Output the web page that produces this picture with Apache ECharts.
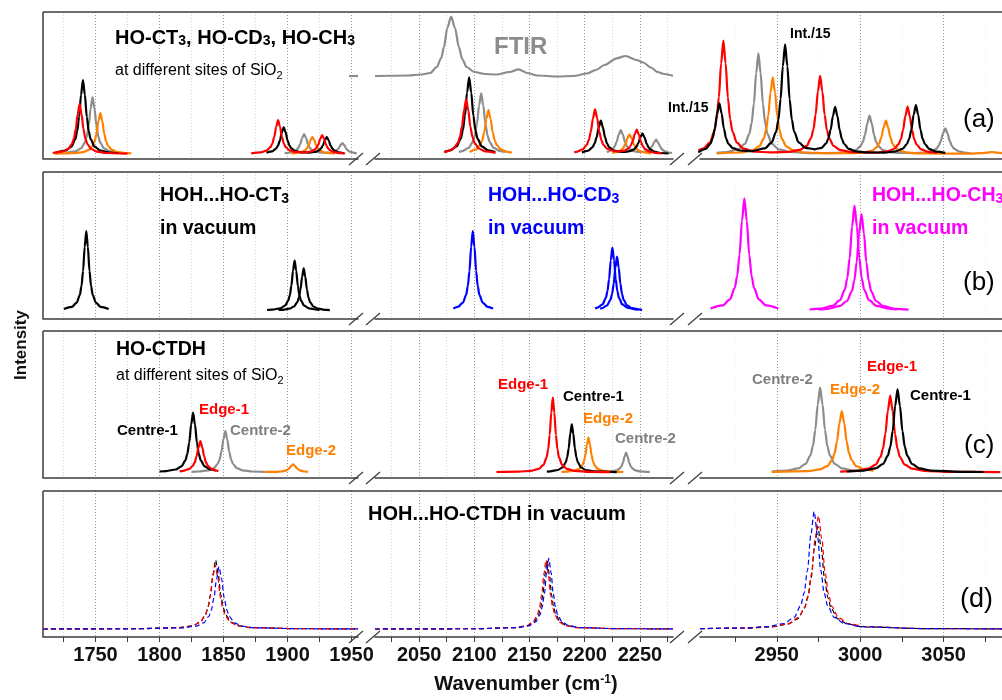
<!DOCTYPE html>
<html><head><meta charset="utf-8">
<script src="https://cdn.jsdelivr.net/npm/echarts@6/dist/echarts.min.js"></script>
<style>html,body{margin:0;padding:0;background:#fff}#c{width:1002px;height:700px}</style>
</head><body><div id="c"></div><script>
// ---------- tick values of the three broken-axis segments ----------
const seg1Ticks = [1725,1750,1775,1800,1825,1850,1875,1900,1925,1950];
const seg1Labels = [1750,1800,1850,1900,1950];
const seg2Ticks = [2025,2050,2075,2100,2125,2150,2175,2200,2225,2250,2275];
const seg2Labels = [2050,2100,2150,2200,2250];
const seg3Ticks = [2925,2950,2975,3000,3025,3050,3075];
const seg3Labels = [2950,3000,3050];

// ---------- panel (a): HO-CT3 / HO-CD3 / HO-CH3 on SiO2 ----------
const a1Red = [[1716.6,1.0],[1724.1,2.4],[1728.6,5],[1731.6,10],[1733.1,15.4],[1734.6,25],[1736.1,40],[1737.6,50],[1739.1,40],[1740.6,25],[1742.1,15.4],[1743.6,10],[1746.6,5],[1751.1,2.4],[1758.6,1.0],[1775,0.3],null,
 [1871.6,0.7],[1879.1,1.6],[1883.6,3.4],[1886.6,6.8],[1888.1,10.5],[1889.6,17],[1891.1,27.2],[1892.6,34],[1894.1,27.2],[1895.6,17],[1897.1,10.5],[1898.6,6.8],[1901.6,3.7],[1906.1,2.0],[1913.5,1.6],[1918,2.4],[1921,4.1],[1922.5,6.1],[1924,9.5],[1925.5,15.2],[1927,19],[1928.5,15.2],[1930,9.5],[1931.5,5.8],[1933,3.8],[1936,1.9],[1940.5,0.9],[1945,0.5]];
const a1Black = [[1719.2,1.5],[1726.7,3.5],[1731.2,7.4],[1734.2,14.8],[1735.7,22.8],[1737.2,37],[1738.7,59.2],[1740.2,74],[1741.7,59.2],[1743.2,37],[1744.7,22.8],[1746.2,14.8],[1749.2,7.4],[1753.7,3.5],[1761.2,1.5],[1768,0.8],null,
 [1883.5,1.3],[1888,2.7],[1891,5.4],[1892.5,8.3],[1894,13.5],[1895.5,21.6],[1897,27],[1898.5,21.6],[1900,13.5],[1901.5,8.3],[1903,5.4],[1906,3.0],[1910.5,1.7],[1917.1,1.4],[1921.6,2.1],[1924.6,3.7],[1926.1,5.5],[1927.6,8.5],[1929.1,13.6],[1930.6,17],[1932.1,13.6],[1933.6,8.5],[1935.1,5.2],[1936.6,3.4],[1939.6,1.7],[1944.1,0.8]];
const a1Gray = [[1726.7,1.1],[1734.2,2.7],[1738.7,5.7],[1741.7,11.4],[1743.2,17.5],[1744.7,28.5],[1746.2,45.6],[1747.7,57],[1749.2,45.6],[1750.7,28.5],[1752.2,17.5],[1753.7,11.4],[1756.7,5.7],[1761.2,2.7],[1768.7,1.1],[1772,0.8],null,
 [1897.7,0.75],[1899.4,0.9],[1903.9,2],[1906.9,4],[1908.4,6.2],[1909.9,10],[1911.4,16],[1912.9,20],[1914.4,16],[1915.9,10],[1917.4,6.2],[1918.9,4],[1921.9,2.2],[1926.4,1.3],[1929.3,1.2],[1933.8,1.5],[1936.8,2.5],[1938.3,3.6],[1939.8,5.5],[1941.3,8.8],[1942.8,11],[1944.3,8.8],[1945.8,5.5],[1947.3,3.4],[1948.8,2.2],[1951.8,1.1],[1954,0.7]];
const a1Orange = [[1718,0.3],[1732.8,0.8],[1740.3,1.9],[1744.8,4.1],[1747.8,8.2],[1749.3,12.6],[1750.8,20.5],[1752.3,32.8],[1753.8,41],[1755.3,32.8],[1756.8,20.5],[1758.3,12.6],[1759.8,8.2],[1762.8,4.1],[1767.3,1.9],[1774.8,0.8],[1778,0.6],null,
 [1903,0.55],[1905.9,0.8],[1910.4,1.7],[1913.4,3.4],[1914.9,5.2],[1916.4,8.5],[1917.9,13.6],[1919.4,17],[1920.9,13.6],[1922.4,8.5],[1923.9,5.2],[1925.4,3.4],[1928.4,1.7],[1932.9,0.8],[1937,0.5]];
const a1Ftir = [[1948,78],[1955,78]];

const a2Red = [[2072.6,1.9],[2075.5,2.6],[2081.2,5.5],[2085,10.9],[2086.9,16.8],[2088.8,27.4],[2090.7,43.8],[2092.6,54.7],[2094.5,43.8],[2096.4,27.4],[2098.3,16.8],[2100.2,10.9],[2104,5.5],[2109.7,2.6],[2119.2,1.1],null,
 [2190.4,1.7],[2192.3,2.1],[2198,4.5],[2201.8,8.9],[2203.7,13.8],[2205.6,22.4],[2207.5,35.8],[2209.4,44.7],[2211.3,35.8],[2213.2,22.4],[2215.1,13.8],[2217,8.9],[2220.8,5.0],[2226.5,2.9],[2230.1,2.6],[2235.8,3.3],[2239.6,5.5],[2241.5,8.0],[2243.4,12.5],[2245.3,19.6],[2247.2,24.4],[2249.1,19.2],[2251,12],[2252.9,7.4],[2254.8,4.8],[2258.6,2.4],[2264.3,1.1],[2270,0.6]];
const a2Black = [[2073,2.1],[2078.2,3.6],[2083.9,7.7],[2087.7,15.3],[2089.6,23.6],[2091.5,38.4],[2093.4,61.4],[2095.3,76.7],[2097.2,61.4],[2099.1,38.4],[2101,23.6],[2102.9,15.3],[2106.7,7.7],[2112.4,3.6],[2119,2.0],null,
 [2197.5,1.6],[2203.2,3.3],[2207,6.7],[2208.9,10.2],[2210.8,16.7],[2212.7,26.6],[2214.6,33.3],[2216.5,26.6],[2218.4,16.7],[2220.3,10.2],[2222.2,6.7],[2226,3.7],[2231.7,2.3],[2235.2,2.1],[2240.9,2.8],[2244.7,4.6],[2246.6,6.8],[2248.5,10.7],[2250.4,16.6],[2252.3,20.7],[2254.2,16.6],[2256.1,10.4],[2258,6.4],[2259.9,4.1],[2263.7,2.1],[2269.4,1.0],[2276,0.5]];
const a2Gray = [[2086,2.1],[2089.1,2.9],[2094.8,6.1],[2098.6,12.1],[2100.5,18.7],[2102.4,30.4],[2104.3,48.6],[2106.2,60.7],[2108.1,48.6],[2110,30.4],[2111.9,18.7],[2113.8,12.1],[2117.6,6.1],[2123.3,2.9],[2128,2.0],null,
 [2220,2.0],[2221.3,2.4],[2225.1,4.8],[2227,7.4],[2228.9,12],[2230.8,19.2],[2232.7,24],[2234.6,19.2],[2236.5,12],[2238.4,7.4],[2240.3,5.1],[2244.1,2.9],[2247.6,2.2],[2253.3,2.2],[2257.1,3.4],[2259,4.8],[2260.9,7.4],[2262.8,11.5],[2264.7,14.3],[2266.6,11.2],[2268.5,7],[2270.4,4.3],[2272.3,2.8],[2276.1,1.4],[2279,1.0]];
const a2Orange = [[2095.7,2.1],[2101.4,4.4],[2105.2,8.8],[2107.1,13.5],[2109,22],[2110.9,35.2],[2112.8,44],[2114.7,35.2],[2116.6,22],[2118.5,13.5],[2120.4,8.8],[2124.2,4.4],[2129.9,2.1],[2134,1.4],null,
 [2225,1.1],[2229.2,2.0],[2233,3.9],[2234.9,6.1],[2236.8,9.9],[2238.7,15.8],[2240.6,19.7],[2242.5,15.8],[2244.4,9.9],[2246.3,6.1],[2248.2,3.9],[2252,2.0],[2257.7,0.9],[2260,0.7]];
const a2Ftir = [[2010,78],[2040,78.5],[2052,79.5],[2060,81],[2066,87],[2070,96],[2072.5,107],[2075.5,126],[2079,137.3],[2082.5,126],[2086,107],[2089,95],[2093,87],[2100,82],[2110,80],[2120,79.5],[2132,82],[2140,84.7],[2148,81],[2157,78.5],[2175,77.5],[2190,78],[2202,80.5],[2210,84],[2218,89],[2229,95.7],[2237,98],[2247,94],[2253,91.5],[2260,86.5],[2266,82],[2272,80],[2280,78.2]];

const a3Black = [[2903,1.6],[2907.5,5.1],[2910.2,10.1],[2911.55,15.6],[2912.9,25.4],[2914.25,40.6],[2915.6,50.7],[2916.95,40.6],[2918.3,25.4],[2919.65,15.6],[2921,10.1],[2923.7,5.9],[2927.75,3.5],[2935,2.9],[2942.85,5.7],[2946.9,11.4],[2949.6,22.2],[2950.95,33.8],[2952.3,54.9],[2953.65,87.8],[2955,109.7],[2956.35,87.8],[2957.7,54.9],[2959.05,34.3],[2960.4,22.5],[2963.1,11.7],[2967.15,6.2],[2972.85,4.7],[2976.9,6.2],[2979.6,10.6],[2980.95,15.4],[2982.3,24.3],[2983.65,38],[2985,47.2],[2986.35,37.9],[2987.7,24],[2989.05,14.9],[2990.4,10],[2993.1,5.2],[2997.15,2.7],[3003.9,1.6],[3014.5,1.4],[3021.25,2.6],[3025.3,5.1],[3028,9.8],[3029.35,15.1],[3030.7,24.5],[3032.05,39.2],[3033.4,49],[3034.75,39.2],[3036.1,24.5],[3037.45,15.1],[3038.8,9.8],[3041.5,4.9],[3045.55,2.3],[3051,1.1]];
const a3Red = [[2903,3.6],[2905.85,5.3],[2909.9,11.3],[2912.6,22.7],[2913.95,34.9],[2915.3,56.7],[2916.65,90.6],[2918,113.3],[2919.35,90.6],[2920.7,56.7],[2922.05,34.9],[2923.4,22.7],[2926.1,11.3],[2930.15,5.3],[2936.9,2.3],[2946,1.7],[2957.1,2.1],[2963.85,4.1],[2967.9,8.1],[2970.6,15.9],[2971.95,24.3],[2973.3,39.3],[2974.65,62.6],[2976,78.2],[2977.35,62.4],[2978.7,39],[2980.05,24],[2981.4,15.6],[2984.1,8.0],[2988.15,3.9],[2994.9,1.9],[3009.5,1.4],[3016.25,2.6],[3020.3,5.0],[3023,9.8],[3024.35,14.6],[3025.7,23.7],[3027.05,37.8],[3028.4,47.3],[3029.75,37.8],[3031.1,23.7],[3032.45,14.6],[3033.8,9.5],[3036.5,4.7],[3040.55,2.2],[3046,1.1]];
const a3Gray = [[2914,1.2],[2920.1,2.0],[2926.85,4.7],[2930.9,10.1],[2933.6,20.1],[2934.95,31],[2936.3,50.4],[2937.65,80.6],[2939,100.7],[2940.35,80.6],[2941.7,50.4],[2943.05,31],[2944.4,20.1],[2947.1,10.1],[2951.15,4.7],[2957.9,2.0],[2972,0.9],[2986.7,1.1],[2993.45,2.1],[2997.5,4.0],[3000.2,7.9],[3001.55,11.8],[3002.9,19.2],[3004.25,30.6],[3005.6,38.3],[3006.95,30.6],[3008.3,19.2],[3009.65,11.8],[3011,7.7],[3013.7,3.8],[3017.75,1.8],[3024.5,1.1],[3032.1,0.9],[3038.85,1.5],[3042.9,2.8],[3045.6,5.1],[3046.95,7.9],[3048.3,12.9],[3049.65,20.6],[3051,25.7],[3052.35,20.6],[3053.7,12.9],[3055.05,7.9],[3056.4,5.1],[3059.1,2.6],[3063.15,1.2],[3066,0.8]];
const a3Orange = [[2914,0.5],[2928.7,1.5],[2935.45,3.6],[2939.5,7.7],[2942.2,15.3],[2943.55,23.6],[2944.9,38.4],[2946.25,61.4],[2947.6,76.7],[2948.95,61.4],[2950.3,38.4],[2951.65,23.6],[2953,15.3],[2955.7,7.7],[2959.75,3.6],[2966.5,1.5],[2982,0.7],[2996.5,0.9],[3003.25,1.8],[3007.3,3.5],[3010,6.8],[3011.35,10.3],[3012.7,16.7],[3014.05,26.6],[3015.4,33.3],[3016.75,26.6],[3018.1,16.7],[3019.45,10.2],[3020.8,6.7],[3023.5,3.3],[3027.55,1.6],[3034.3,0.7],[3050,0.3],[3065,0.4],[3073,0.9],[3076,1.4],[3079,2.0],[3082,1.4],[3085,0.9]];

// ---------- panel (b): HOH...HO-CX3 in vacuum ----------
const b1Black = [[1725.3,1.6],[1731.55,3.8],[1735.3,8],[1737.8,15.9],[1739.05,24.5],[1740.3,39.9],[1741.55,63.8],[1742.8,79.7],[1744.05,63.8],[1745.3,39.9],[1746.55,24.5],[1747.8,15.9],[1750.3,8],[1754.05,3.8],[1760.3,1.6],null,
 [1884,0.7],[1888,1.0],[1894.25,2.4],[1898,5],[1900.5,10],[1901.75,15.4],[1903,25],[1904.25,40],[1905.5,50],[1906.75,40],[1908,25],[1909.25,15.4],[1910.5,10],[1913,5],[1916.75,2.4],[1923,1.0],[1925,0.8]];
const b1Black2 = [[1893,0.7],[1895.1,0.8],[1901.35,2.0],[1905.1,4.2],[1907.6,8.5],[1908.85,13],[1910.1,21.2],[1911.35,33.8],[1912.6,42.3],[1913.85,33.8],[1915.1,21.2],[1916.35,13],[1917.6,8.5],[1920.1,4.2],[1923.85,2.0],[1930.1,0.8],[1933,0.6]];
const b2Blue = [[2081,2.2],[2085.1,3.8],[2089.6,8],[2092.6,15.9],[2094.1,24.5],[2095.6,39.9],[2097.1,63.8],[2098.6,79.7],[2100.1,63.8],[2101.6,39.9],[2103.1,24.5],[2104.6,15.9],[2107.6,8],[2112.1,3.8],[2117,2.1],null,
 [2209.4,2.2],[2211.6,3.0],[2216.1,6.3],[2219.1,12.6],[2220.6,19.4],[2222.1,31.5],[2223.6,50.4],[2225.1,63],[2226.6,50.4],[2228.1,31.5],[2229.6,19.4],[2231.1,12.6],[2234.1,6.3],[2238.6,3.0],[2246.1,1.3],[2248,1.1]];
const b2Blue2 = [[2214,2.0],[2215.8,2.5],[2220.3,5.4],[2223.3,10.8],[2224.8,16.6],[2226.3,27],[2227.8,43.2],[2229.3,54],[2230.8,43.2],[2232.3,27],[2233.8,16.6],[2235.3,10.8],[2238.3,5.4],[2242.8,2.5],[2250.3,1.1],[2252,0.9]];
const b3Magenta = [[2910.3,2.2],[2917.55,5.3],[2921.9,11.2],[2924.8,22.5],[2926.25,34.6],[2927.7,56.2],[2929.15,89.9],[2930.6,112.4],[2932.05,89.9],[2933.5,56.2],[2934.95,34.6],[2936.4,22.5],[2939.3,11.2],[2943.65,5.3],[2950.9,2.2],null,
 [2969.6,1.2],[2976.3,2.1],[2983.55,4.9],[2987.9,10.5],[2990.8,21],[2992.25,32.3],[2993.7,52.5],[2995.15,84],[2996.6,105],[2998.05,84],[2999.5,52.5],[3000.95,32.3],[3002.4,21],[3005.3,10.5],[3009.65,4.9],[3016.9,2.1],[3022,1.3]];
const b3Magenta2 = [[2975,1.2],[2980.5,1.9],[2987.75,4.6],[2992.1,9.7],[2995,19.3],[2996.45,29.8],[2997.9,48.4],[2999.35,77.4],[3000.8,96.7],[3002.25,77.4],[3003.7,48.4],[3005.15,29.8],[3006.6,19.3],[3009.5,9.7],[3013.85,4.6],[3021.1,1.9],[3029,1.1]];

// ---------- panel (c): HO-CTDH on SiO2 ----------
const c1Black = [[1800,0.8],[1805.2,1.2],[1812.7,2.8],[1817.2,6],[1820.2,11.9],[1821.7,18.3],[1823.2,29.8],[1824.7,47.7],[1826.2,59.6],[1827.7,47.7],[1829.2,29.8],[1830.7,18.3],[1832.2,11.9],[1835.2,6],[1839.7,2.8],[1844,1.7]];
const c1Red = [[1815.7,1.0],[1818.4,1.5],[1822.9,3.1],[1825.9,6.3],[1827.4,9.6],[1828.9,15.7],[1830.4,25],[1831.9,31.3],[1833.4,25],[1834.9,15.7],[1836.4,9.6],[1837.9,6.3],[1840.9,3.1],[1845.4,1.5],[1846,1.4]];
const c1Gray = [[1825,0.5],[1830.4,0.8],[1837.9,1.9],[1842.4,4.1],[1845.4,8.3],[1846.9,12.7],[1848.4,20.7],[1849.9,33],[1851.4,41.3],[1852.9,33],[1854.4,20.7],[1855.9,12.7],[1857.4,8.3],[1860.4,4.1],[1864.9,1.9],[1872.4,0.8],[1882,0.4]];
const c1Orange = [[1882,0.4],[1890.8,0.4],[1895.3,0.8],[1898.3,1.6],[1899.8,2.5],[1901.3,4],[1902.8,6.4],[1904.3,8],[1905.8,6.4],[1907.3,4],[1908.8,2.5],[1910.3,1.6],[1913.3,0.8],[1916,0.5]];
const c2Red = [[2120,0.3],[2140,0.6],[2151.5,1.5],[2158.5,3.5],[2162.7,7.5],[2165.5,14.9],[2166.9,23],[2168.3,37.3],[2169.7,59.7],[2171.1,74.6],[2172.5,59.7],[2173.9,37.3],[2175.3,23],[2176.7,14.9],[2179.5,7.5],[2183.7,3.5],[2190.7,1.5],[2205,0.5],[2223,0.2]];
const c2Black = [[2165.7,0.7],[2168.7,1.0],[2175.7,2.3],[2179.9,4.8],[2182.7,9.6],[2184.1,14.8],[2185.5,24],[2186.9,38.4],[2188.3,48],[2189.7,38.4],[2191.1,24],[2192.5,14.8],[2193.9,9.6],[2196.7,4.8],[2200.9,2.3],[2207.9,1.0],[2229,0.2]];
const c2Orange = [[2179,0.5],[2183.8,0.7],[2190.8,1.6],[2195,3.5],[2197.8,6.9],[2199.2,10.6],[2200.6,17.3],[2202,27.7],[2203.4,34.6],[2204.8,27.7],[2206.2,17.3],[2207.6,10.6],[2209,6.9],[2211.8,3.5],[2216,1.6],[2223,0.7],[2235,0.3]];
const c2Gray = [[2223,0.7],[2224.9,0.9],[2229.1,2],[2231.9,3.9],[2233.3,6],[2234.7,9.8],[2236.1,15.7],[2237.5,19.6],[2238.9,15.7],[2240.3,9.8],[2241.7,6],[2243.1,3.9],[2245.9,2],[2250.1,0.9],[2257.1,0.4],[2259,0.35]];
const c3Gray = [[2947,0.8],[2955.7,1.7],[2962.95,4.0],[2967.3,8.5],[2970.2,16.9],[2971.65,26],[2973.1,42.3],[2974.55,67.7],[2976,84.6],[2977.45,67.7],[2978.9,42.3],[2980.35,26],[2981.8,16.9],[2984.7,8.5],[2989.05,4.0],[2996.3,1.7],[2999,1.4]];
const c3Orange = [[2947,0.3],[2968.7,1.2],[2975.95,2.9],[2980.3,6.1],[2983.2,12.3],[2984.65,18.9],[2986.1,30.7],[2987.55,49],[2989,61.3],[2990.45,49],[2991.9,30.7],[2993.35,18.9],[2994.8,12.3],[2997.7,6.1],[3002.05,2.9],[3008,1.5]];
const c3Red = [[2988,0.7],[2997.7,1.5],[3004.95,3.6],[3009.3,7.7],[3012.2,15.3],[3013.65,23.6],[3015.1,38.3],[3016.55,61.3],[3018,76.6],[3019.45,61.3],[3020.9,38.3],[3022.35,23.6],[3023.8,15.3],[3026.7,7.7],[3031.05,3.6],[3038.3,1.5],[3055,0.5],[3084,0.1]];
const c3Black = [[2992,0.8],[3002.1,1.7],[3009.35,3.9],[3013.7,8.3],[3016.6,16.6],[3018.05,25.5],[3019.5,41.5],[3020.95,66.4],[3022.4,83],[3023.85,66.4],[3025.3,41.5],[3026.75,25.5],[3028.2,16.6],[3031.1,8.3],[3035.45,3.9],[3042.7,1.7],[3060,0.5],[3074,0.3]];

// ---------- panel (d): HOH...HO-CTDH in vacuum ----------
const d1Black = [[1709,0],[1780,0.3],[1815.8,1.4],[1825.8,3.2],[1831.8,6.9],[1835.8,13.8],[1837.8,21.2],[1839.8,34.5],[1841.8,55.2],[1843.8,69],[1845.8,55.2],[1847.8,34.5],[1849.8,21.2],[1851.8,13.8],[1855.8,6.9],[1861.8,3.2],[1871.8,1.4],[1910,0.3],[1955,0.1]];
const d1Red = [[1709,0],[1780,0.25],[1815.5,1.3],[1825.5,3.0],[1831.5,6.4],[1835.5,12.8],[1837.5,19.7],[1839.5,32],[1841.5,51.2],[1843.5,64],[1845.5,51.2],[1847.5,32],[1849.5,19.7],[1851.5,12.8],[1855.5,6.4],[1861.5,3.0],[1871.5,1.3],[1910,0.25],[1955,0.1]];
const d1Blue = [[1709,0],[1780,0.22],[1818.5,1.2],[1828.5,2.9],[1834.5,6.2],[1838.5,12.5],[1840.5,19.2],[1842.5,31.2],[1844.5,49.8],[1846.5,62.3],[1848.5,49.8],[1850.5,31.2],[1852.5,19.2],[1854.5,12.5],[1858.5,6.2],[1864.5,2.9],[1874.5,1.2],[1910,0.25],[1955,0.1]];
const d2Black = [[2010,0],[2100,0.25],[2138,1.4],[2148,3.2],[2154,6.8],[2158,13.6],[2160,20.9],[2162,34],[2164,54.4],[2166,68],[2168,54.4],[2170,34],[2172,20.9],[2174,13.6],[2178,6.8],[2184,3.2],[2194,1.4],[2230,0.3],[2280,0.1]];
const d2Red = [[2010,0],[2100,0.26],[2137,1.4],[2147,3.2],[2153,6.9],[2157,13.8],[2159,21.2],[2161,34.5],[2163,55.2],[2165,69],[2167,55.2],[2169,34.5],[2171,21.2],[2173,13.8],[2177,6.9],[2183,3.2],[2193,1.4],[2230,0.3],[2280,0.1]];
const d2Blue = [[2010,0],[2100,0.25],[2139.5,1.4],[2149.5,3.3],[2155.5,7.1],[2159.5,14.1],[2161.5,21.8],[2163.5,35.4],[2165.5,56.6],[2167.5,70.7],[2169.5,56.6],[2171.5,35.4],[2173.5,21.8],[2175.5,14.1],[2179.5,7.1],[2185.5,3.3],[2195.5,1.4],[2230,0.3],[2280,0.1]];
const d3Black = [[2904,0.3],[2930,0.8],[2946.6,2.0],[2956.6,4.8],[2962.6,10.2],[2966.6,20.5],[2968.6,31.5],[2970.6,51.2],[2972.6,81.8],[2974.6,102.3],[2976.6,81.8],[2978.6,51.2],[2980.6,31.5],[2982.6,20.5],[2986.6,10.2],[2992.6,4.8],[3002.6,2.0],[3040,0.4],[3085,0.1]];
const d3Red = [[2904,0.35],[2930,0.9],[2947,2.3],[2957,5.3],[2963,11.3],[2967,22.6],[2969,34.8],[2971,56.5],[2973,90.4],[2975,113],[2977,90.4],[2979,56.5],[2981,34.8],[2983,22.6],[2987,11.3],[2993,5.3],[3003,2.3],[3040,0.4],[3085,0.1]];
const d3Blue = [[2904,0.4],[2930,1.0],[2944.4,2.3],[2954.4,5.5],[2960.4,11.7],[2964.4,23.5],[2966.4,36.1],[2968.4,58.7],[2970.4,93.8],[2972.4,117.3],[2974.4,93.8],[2976.4,58.7],[2978.4,36.1],[2980.4,23.5],[2984.4,11.7],[2990.4,5.5],[3000.4,2.3],[3040,0.3],[3085,0.1]];

// ---------- layout ----------
const FONT = 'Arial, "Liberation Sans", Helvetica, sans-serif';
const RED = '#ff0000', BLACK = '#000000', GRAY = '#8c8c8c', ORANGE = '#ff8000', BLUE = '#0000ff', MAGENTA = '#ff00ff';
const segments = [
  {min:1709, max:1955, left:43, width:315, ticks:seg1Ticks, labels:seg1Labels, grid:['#d4d4d4','#9a9a9a']},
  {min:2010, max:2280, left:375, width:298, ticks:seg2Ticks, labels:seg2Labels, grid:['#d4d4d4','#9a9a9a']},
  {min:2904, max:3085, left:700, width:302, ticks:seg3Ticks, labels:seg3Labels, grid:['#f2f2f2','#9a9a9a']}
];
const panels = [
  {top:12, height:147, ymin:-5, ymax:142},
  {top:172, height:147, ymin:-8.3, ymax:138.7},
  {top:331, height:147, ymin:-5.7, ymax:141.3},
  {top:491, height:146, ymin:-8, ymax:138}
];

const option = {animation:false, grid:[], xAxis:[], yAxis:[], series:[], graphic:[]};
panels.forEach((p, pi) => segments.forEach((s, si) => {
  const last = pi === 3;
  option.grid.push({left:s.left, width:s.width, top:p.top, height:p.height});
  option.xAxis.push({
    gridIndex: pi*3+si, type:'value', min:s.min, max:s.max,
    axisLine:{show:true, onZero:false, lineStyle:{color:'#3c3c3c', width:1.5}},
    axisTick:{show:last, customValues:s.ticks, length:5, lineStyle:{color:'#3c3c3c', width:1}},
    axisLabel:{show:last, customValues:s.labels, fontSize:20, fontWeight:'bold', color:'#111', fontFamily:FONT, margin:8, formatter:v => String(v)},
    splitLine:{show:true, lineStyle:{type:[1,2], width:1, color:s.grid}}
  });
  option.yAxis.push({gridIndex: pi*3+si, type:'value', min:p.ymin, max:p.ymax, show:false});
}));

function splitNull(arr) {
  const out = []; let cur = [];
  arr.forEach(pt => { if (pt === null) { if (cur.length) out.push(cur); cur = []; } else cur.push(pt); });
  if (cur.length) out.push(cur);
  return out;
}
function addLine(pi, si, data, color, extra) {
  const gi = pi*3+si;
  splitNull(data).forEach(part => {
    option.series.push({
      type:'line', xAxisIndex:gi, yAxisIndex:gi, data:part, symbol:'none', showSymbol:false,
      smooth:0.3, smoothMonotone:'x', silent:true, z:3,
      lineStyle:Object.assign({color, width:2.2}, extra || {}), itemStyle:{color}
    });
  });
}
// (a)
addLine(0,0,a1Gray,GRAY); addLine(0,0,a1Orange,ORANGE); addLine(0,0,a1Black,BLACK); addLine(0,0,a1Red,RED); addLine(0,0,a1Ftir,GRAY);
addLine(0,1,a2Ftir,GRAY); addLine(0,1,a2Gray,GRAY); addLine(0,1,a2Orange,ORANGE); addLine(0,1,a2Black,BLACK); addLine(0,1,a2Red,RED);
addLine(0,2,a3Gray,GRAY); addLine(0,2,a3Orange,ORANGE); addLine(0,2,a3Red,RED); addLine(0,2,a3Black,BLACK);
// (b)
addLine(1,0,b1Black,BLACK); addLine(1,0,b1Black2,BLACK);
addLine(1,1,b2Blue,BLUE); addLine(1,1,b2Blue2,BLUE);
addLine(1,2,b3Magenta,MAGENTA); addLine(1,2,b3Magenta2,MAGENTA);
// (c)
addLine(2,0,c1Gray,GRAY); addLine(2,0,c1Orange,ORANGE); addLine(2,0,c1Black,BLACK); addLine(2,0,c1Red,RED);
addLine(2,1,c2Gray,GRAY); addLine(2,1,c2Orange,ORANGE); addLine(2,1,c2Black,BLACK); addLine(2,1,c2Red,RED);
addLine(2,2,c3Gray,GRAY); addLine(2,2,c3Orange,ORANGE); addLine(2,2,c3Red,RED); addLine(2,2,c3Black,BLACK);
// (d)
const dash = {width:1.2, type:[5,3]};
addLine(3,0,d1Black,BLACK,dash); addLine(3,0,d1Red,RED,dash); addLine(3,0,d1Blue,BLUE,dash);
addLine(3,1,d2Black,BLACK,dash); addLine(3,1,d2Red,RED,dash); addLine(3,1,d2Blue,BLUE,dash);
addLine(3,2,d3Black,BLACK,dash); addLine(3,2,d3Red,RED,dash); addLine(3,2,d3Blue,BLUE,dash);

// ---------- frame, breaks, texts ----------
const G = option.graphic;
const frame = {stroke:'#3c3c3c', lineWidth:1.5};
panels.forEach(p => {
  const yb = p.top + p.height;
  G.push({type:'line', silent:true, z:50, shape:{x1:43, y1:p.top, x2:1002, y2:p.top}, style:frame});
  G.push({type:'line', silent:true, z:50, shape:{x1:43, y1:p.top, x2:43, y2:yb}, style:frame});
  [349, 366, 670, 688].forEach(bx => {
    G.push({type:'line', silent:true, z:50, shape:{x1:bx, y1:yb+6, x2:bx+14, y2:yb-6}, style:{stroke:'#3c3c3c', lineWidth:1.2}});
  });
});
function txt(x, y, text, size, color, weight, extra) {
  G.push({type:'text', x, y, z:100, silent:true, style:Object.assign({
    text, fontSize:size, fontWeight:weight || 'bold', fontFamily:FONT, fill:color || '#000',
    align:'left', verticalAlign:'middle', textAlign:'left', textVerticalAlign:'middle'}, extra || {})});
}
function subRich(size, weight, color, lh) {
  return {lineHeight:20, rich:{s:{fontSize:size, fontWeight:weight, fontFamily:FONT, fill:color, verticalAlign:'bottom', lineHeight:lh}}};
}
// (a)
txt(115, 38, 'HO-CT{s|3}, HO-CD{s|3}, HO-CH{s|3}', 20, '#000', 'bold', subRich(14, 'bold', '#000', 6));
txt(115, 71, 'at different sites of SiO{s|2}', 16, '#000', 'normal', subRich(11, 'normal', '#000', 4));
txt(494, 47.5, 'FTIR', 24, '#8c8c8c', 'bold');
txt(668, 108, 'Int./15', 14, '#000', 'bold');
txt(790, 34, 'Int./15', 14, '#000', 'bold');
txt(963, 120, '(a)', 26, '#000', 'normal');
// (b)
txt(160, 196, 'HOH...HO-CT{s|3}', 19.5, BLACK, 'bold', subRich(14, 'bold', BLACK, 4));
txt(160, 229, 'in vacuum', 19.5, BLACK, 'bold');
txt(488, 196, 'HOH...HO-CD{s|3}', 19.5, BLUE, 'bold', subRich(14, 'bold', BLUE, 4));
txt(488, 229, 'in vacuum', 19.5, BLUE, 'bold');
txt(872, 196, 'HOH...HO-CH{s|3}', 19.5, MAGENTA, 'bold', subRich(14, 'bold', MAGENTA, 4));
txt(872, 229, 'in vacuum', 19.5, MAGENTA, 'bold');
txt(963, 283, '(b)', 26, '#000', 'normal');
// (c)
txt(116, 350, 'HO-CTDH', 19.5, '#000', 'bold');
txt(116, 376, 'at different sites of SiO{s|2}', 16, '#000', 'normal', subRich(11, 'normal', '#000', 4));
txt(117, 431.3, 'Centre-1', 15, BLACK); txt(199, 410.3, 'Edge-1', 15, RED);
txt(230, 431.3, 'Centre-2', 15, '#808080'); txt(286, 451.3, 'Edge-2', 15, ORANGE);
txt(498, 384.6, 'Edge-1', 15, RED); txt(563, 397.3, 'Centre-1', 15, BLACK);
txt(583, 418.6, 'Edge-2', 15, ORANGE); txt(615, 438.6, 'Centre-2', 15, '#808080');
txt(867, 367.3, 'Edge-1', 15, RED); txt(752, 380.3, 'Centre-2', 15, '#808080');
txt(830, 390.3, 'Edge-2', 15, ORANGE); txt(910, 395.6, 'Centre-1', 15, BLACK);
txt(964, 446, '(c)', 26, '#000', 'normal');
// (d)
txt(368, 514.5, 'HOH...HO-CTDH in vacuum', 20, '#000', 'bold');
txt(960, 600, '(d)', 27, '#000', 'normal');
// axis names
G.push({type:'text', x:526, y:684, z:100, silent:true, style:{text:'Wavenumber (cm{u|-1})', fontSize:20, fontWeight:'bold', fontFamily:FONT, fill:'#111',
  align:'center', verticalAlign:'middle', textAlign:'center', textVerticalAlign:'middle', lineHeight:20,
  rich:{u:{fontSize:12, fontWeight:'bold', fontFamily:FONT, fill:'#111', verticalAlign:'top', lineHeight:10}}}});
G.push({type:'text', x:21, y:345, rotation:Math.PI/2, z:100, silent:true, style:{text:'Intensity', fontSize:17, fontWeight:'bold', fontFamily:FONT, fill:'#111',
  align:'center', verticalAlign:'middle', textAlign:'center', textVerticalAlign:'middle'}});

const chart = echarts.init(document.getElementById('c'), null, {renderer:'canvas'});
chart.setOption(option);
</script></body></html>
